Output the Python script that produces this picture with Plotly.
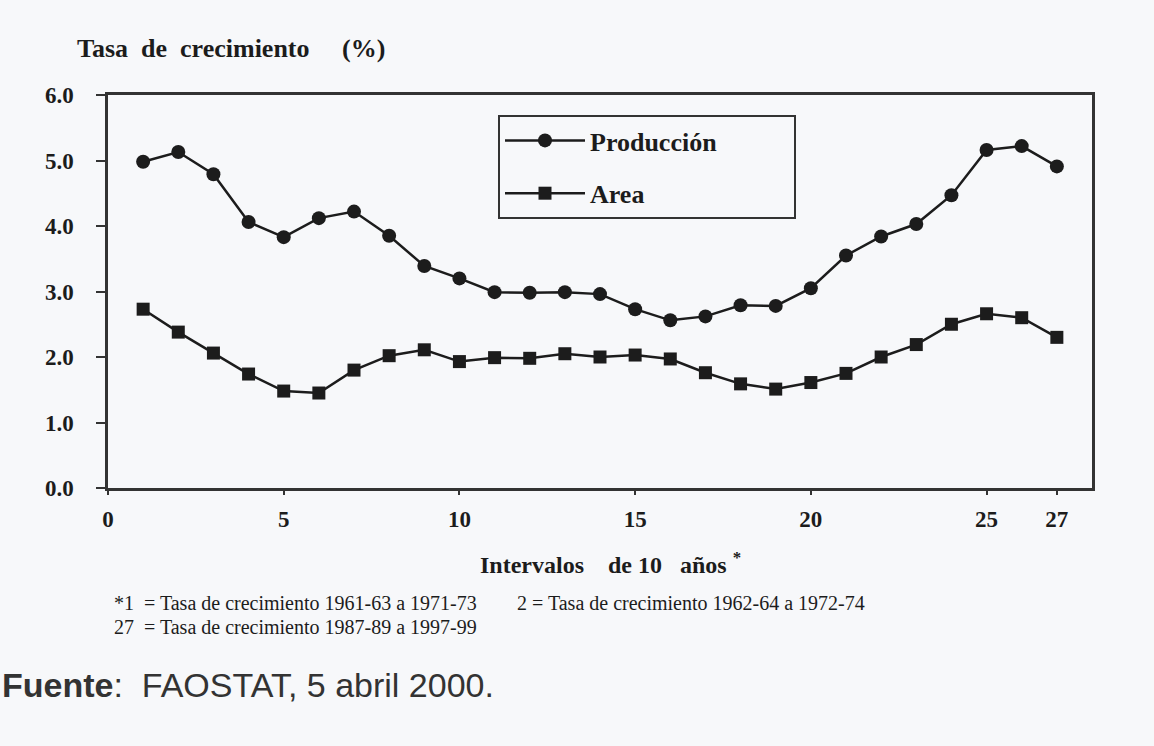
import plotly.graph_objects as go

# ---- data ----
intervals = list(range(1, 28))
produccion = [4.98, 5.13, 4.79, 4.06, 3.83, 4.12, 4.22, 3.85, 3.39, 3.20,
              2.99, 2.98, 2.99, 2.96, 2.73, 2.56, 2.62, 2.79, 2.78, 3.05,
              3.55, 3.84, 4.03, 4.47, 5.16, 5.22, 4.91]
area = [2.73, 2.38, 2.06, 1.74, 1.48, 1.45, 1.80, 2.02, 2.11, 1.93,
        1.99, 1.98, 2.05, 2.00, 2.03, 1.97, 1.76, 1.59, 1.51, 1.61,
        1.75, 2.00, 2.19, 2.50, 2.66, 2.60, 2.30]
x_tickvals = [0, 5, 10, 15, 20, 25, 27]
y_tickvals = [0, 1, 2, 3, 4, 5, 6]

W, H = 1154, 746
L, R, T, B = 108, 62, 95, 258
PW, PH = W - L - R, H - T - B

def px(xp):
    return (xp - L) / PW

def py(yp):
    return (H - B - yp) / PH

INK = "#1c1c1c"
BG = "#f7f8fa"
SERIF = "Liberation Serif, Times New Roman, serif"
PAD = "\u00a0" * 11

fig = go.Figure()
fig.add_trace(go.Scatter(
    x=intervals, y=produccion, name="<b>Producción</b>" + PAD, mode="lines+markers",
    line=dict(color=INK, width=2.5),
    marker=dict(symbol="circle", size=14, color=INK),
    legendgroup="a"))
fig.add_trace(go.Scatter(
    x=intervals, y=area, name="<b>Area</b>", mode="lines+markers",
    line=dict(color=INK, width=2.5),
    marker=dict(symbol="square", size=13, color=INK),
    legendgroup="b"))

fig.update_layout(
    width=W, height=H,
    margin=dict(l=L, r=R, t=T, b=B),
    paper_bgcolor=BG, plot_bgcolor=BG,
    font=dict(family=SERIF, color=INK),
    title=dict(text="<b>Tasa  de  crecimiento     (%)</b>",
               x=77 / W, xanchor="left", y=1 - 48 / H, yanchor="middle",
               font=dict(size=26, family=SERIF, color=INK)),
    legend=dict(x=px(498), y=py(115), xanchor="left", yanchor="top",
                bordercolor="#333", borderwidth=2, bgcolor=BG,
                font=dict(size=26, family=SERIF, color=INK),
                itemwidth=80, tracegroupgap=16,
                ),
    showlegend=True,
)

fig.update_xaxes(
    range=[0, 28], tickvals=x_tickvals, ticktext=[f"<b>{v}</b>" for v in x_tickvals],
    showgrid=False, zeroline=False,
    showline=True, linecolor="#333", linewidth=2.5, mirror=True,
    ticks="outside", ticklen=4, tickwidth=2, tickcolor="#333",
    tickfont=dict(size=23, family=SERIF, color=INK), ticklabelstandoff=5,
)
fig.update_yaxes(
    range=[0, 6], tickvals=y_tickvals, ticktext=[f"<b>{v:.1f}</b>" for v in y_tickvals],
    showgrid=False, zeroline=False,
    showline=True, linecolor="#333", linewidth=2.5, mirror=True,
    ticks="outside", ticklen=9, tickwidth=2, tickcolor="#333",
    tickfont=dict(size=23, family=SERIF, color=INK), ticklabelstandoff=18,
)

ann = [
    dict(text="<b>Intervalos    de 10   años </b><sup><b>*</b></sup>", x=px(610), y=py(563),
         xanchor="center", yanchor="middle", font=dict(size=24, family=SERIF, color=INK)),
    dict(text="*1  = Tasa de crecimiento 1961-63 a 1971-73", x=px(112), y=py(603),
         xanchor="left", yanchor="middle", font=dict(size=20, family=SERIF, color=INK)),
    dict(text="2 = Tasa de crecimiento 1962-64 a 1972-74", x=px(515), y=py(603),
         xanchor="left", yanchor="middle", font=dict(size=20, family=SERIF, color=INK)),
    dict(text="27  = Tasa de crecimiento 1987-89 a 1997-99", x=px(112), y=py(627),
         xanchor="left", yanchor="middle", font=dict(size=20, family=SERIF, color=INK)),
    dict(text="<b>Fuente</b>:  FAOSTAT, 5 abril 2000.", x=px(0), y=py(685),
         xanchor="left", yanchor="middle",
         font=dict(size=34, family="Liberation Sans, Arial, sans-serif", color="#333")),
]
for a in ann:
    a.update(xref="paper", yref="paper", showarrow=False)
fig.update_layout(annotations=ann)

fig.write_html("out.html", config={"displayModeBar": False},
               post_script="document.body.style.margin='0px';")
